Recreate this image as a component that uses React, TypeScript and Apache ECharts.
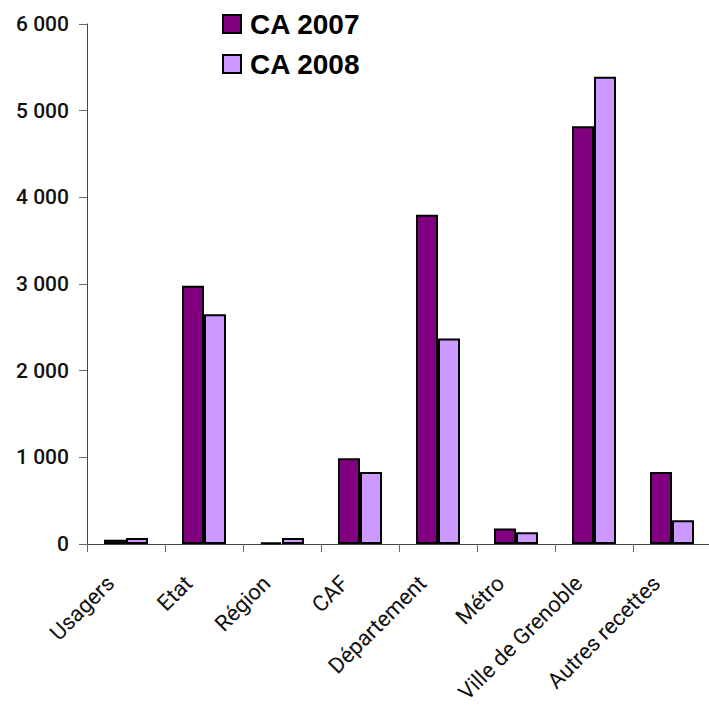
import React, { useEffect, useRef } from "react";
import * as echarts from "echarts";

const categories = ["Usagers", "Etat", "Région", "CAF", "Département", "Métro", "Ville de Grenoble", "Autres recettes"];
const ca2007 = [50, 2980, 20, 990, 3800, 180, 4820, 830];
const ca2008 = [70, 2650, 70, 830, 2370, 135, 5390, 275];
const seriesNames = ["CA 2007", "CA 2008"];

const fmt = (v: number) => {
  const s = String(v);
  return s.length > 3 ? s.slice(0, s.length - 3) + " " + s.slice(-3) : s;
};

export default function App() {
  const ref = useRef<HTMLDivElement>(null);
  useEffect(() => {
    if (!ref.current) return;
    const chart = echarts.init(ref.current, undefined, { renderer: "svg" });
    const font = "Roboto, 'Liberation Sans', Arial, sans-serif";
    chart.setOption({
      animation: false,
      backgroundColor: "#ffffff",
      grid: {
        left: 87,
        top: 24,
        width: 624,
        height: 520,
        containLabel: false,
        outerBoundsMode: "none",
      },
      legend: {
        orient: "vertical",
        left: 217,
        top: 5,
        itemWidth: 18,
        itemHeight: 18,
        itemGap: 12,
        icon: "rect",
        data: seriesNames,
        textStyle: {
          fontFamily: "'Liberation Sans', Arial, sans-serif",
          fontWeight: "bold",
          fontSize: 28,
          color: "#000",
          padding: [0, 0, 0, 4],
        },
      },
      xAxis: {
        type: "category",
        data: categories,
        axisLine: { lineStyle: { color: "#444", width: 1 } },
        axisTick: { show: true, length: 8, alignWithLabel: false, lineStyle: { color: "#666" } },
        axisLabel: {
          rotate: 45,
          interval: 0,
          margin: 20,
          padding: [0, 22, 0, 0],
          fontFamily: font,
          fontSize: 22,
          color: "#111",
        },
      },
      yAxis: {
        type: "value",
        min: 0,
        max: 6000,
        interval: 1000,
        splitLine: { show: false },
        axisLine: { show: true, lineStyle: { color: "#444", width: 1 } },
        axisTick: { show: true, length: 8, lineStyle: { color: "#666" } },
        axisLabel: {
          formatter: (v: number) => fmt(v),
          margin: 18,
          fontFamily: font,
          fontWeight: 500,
          fontSize: 21,
          color: "#111",
        },
      },
      series: [
        {
          name: seriesNames[0],
          type: "bar",
          data: ca2007,
          barWidth: 22,
          barGap: "0%",
          itemStyle: { color: "#800080", borderColor: "#000", borderWidth: 2 },
        },
        {
          name: seriesNames[1],
          type: "bar",
          data: ca2008,
          barWidth: 22,
          barGap: "0%",
          itemStyle: { color: "#CC99FF", borderColor: "#000", borderWidth: 2 },
        },
      ],
    });
    return () => chart.dispose();
  }, []);
  return (
    <div
      ref={ref}
      style={{ position: "absolute", left: 0, top: 0, width: 709, height: 705 }}
    />
  );
}
